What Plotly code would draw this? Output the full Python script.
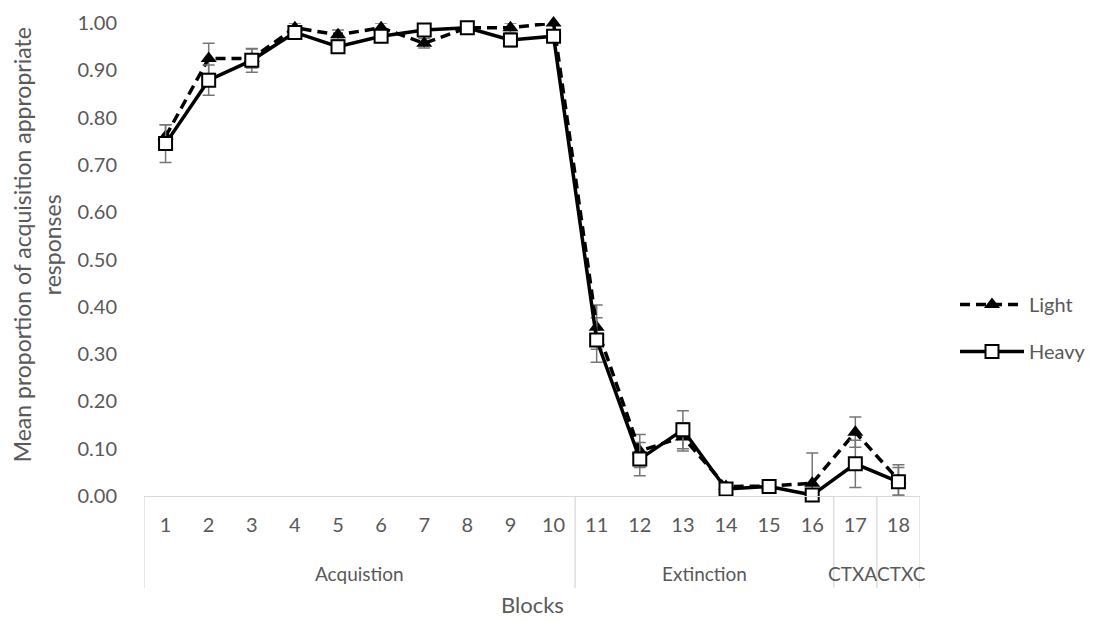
import plotly.graph_objects as go

blocks = [str(i) for i in range(1, 19)]
phases = ["Acquistion"] * 10 + ["Extinction"] * 6 + ["CTXA"] + ["CTXC"]

light = [0.76, 0.925, 0.925, 0.99, 0.975, 0.99, 0.957, 0.99, 0.99, 1.00,
         0.357, 0.095, 0.125, 0.02, 0.021, 0.027, 0.135, 0.034]
light_err = [0.025, 0.032, 0.02, 0.01, 0.01, 0.01, 0.01, 0.005, 0.01, 0.005,
             0.047, 0.035, 0.03, 0.005, 0.005, 0.064, 0.032, 0.032]
heavy = [0.745, 0.879, 0.921, 0.98, 0.95, 0.972, 0.985, 0.99, 0.964, 0.972,
         0.33, 0.078, 0.14, 0.015, 0.02, 0.002, 0.068, 0.03]
heavy_err = [0.04, 0.032, 0.025, 0.01, 0.01, 0.01, 0.01, 0.005, 0.014, 0.01,
             0.047, 0.035, 0.04, 0.005, 0.005, 0.005, 0.05, 0.03]

grey = "#595959"
font = "Lato"
errc = "#767676"

fig = go.Figure()
fig.add_trace(go.Scatter(
    x=blocks, y=light, name="Light", mode="lines+markers", legendgroup="a",
    line=dict(color="black", width=3.5, dash="10px,6px"),
    marker=dict(symbol="triangle-up", size=14, color="black"),
    error_y=dict(type="data", array=light_err, color=errc, thickness=1.5, width=6),
    cliponaxis=False,
))
fig.add_trace(go.Scatter(
    x=blocks, y=heavy, name="Heavy", mode="lines+markers", legendgroup="b",
    line=dict(color="black", width=3.5),
    marker=dict(symbol="square", size=13, color="white", line=dict(width=2, color="black")),
    error_y=dict(type="data", array=heavy_err, color=errc, thickness=1.5, width=6),
    cliponaxis=False,
))

# the page body adds an 8px offset; size the figure so it fits the window
OFF = 8
W, H = 1101 - OFF, 621 - OFF
L, R, T, B = 144 - OFF, 181, 23 - OFF, 125
plot_h = H - T - B
plot_w = W - L - R
base = 496  # page pixel of the zero line


def py(pix):
    return (base - pix) / plot_h


def px(pix):
    return (pix - 144) / plot_w


# group separators and labels derived from the phase list
groups = []
start = 0
for i in range(1, len(phases) + 1):
    if i == len(phases) or phases[i] != phases[start]:
        groups.append((phases[start], start, i - 1))
        start = i

shapes = []
bounds = [-0.5] + [g[2] + 0.5 for g in groups]
for b in bounds:
    shapes.append(dict(type="line", xref="x", yref="paper", x0=b, x1=b,
                       y0=0, y1=py(588), line=dict(color="#d9d9d9", width=1.3)))

annotations = []
for name, s, e in groups:
    shift = 0
    if e - s == 0:
        shift = -3 if s < len(phases) - 1 else 3
    annotations.append(dict(x=(s + e) / 2, y=py(573), xref="x", yref="paper",
                            text=name, showarrow=False, yanchor="middle", xshift=shift,
                            font=dict(size=19, color=grey, family=font)))
annotations.append(dict(x=0.5, y=py(604), xref="paper", yref="paper",
                        text="Blocks", showarrow=False, yanchor="middle",
                        font=dict(size=22, color=grey, family=font)))
annotations.append(dict(x=px(37), y=0.53, xref="paper", yref="paper",
                        text="Mean proportion of acquisition appropriate<br>responses",
                        textangle=-90, showarrow=False, xanchor="center", yanchor="middle",
                        font=dict(size=23, color=grey, family=font)))

fig.update_layout(
    width=W, height=H,
    paper_bgcolor="white", plot_bgcolor="white",
    margin=dict(l=L, r=R, t=T, b=B, autoexpand=False),
    font=dict(family=font, size=20, color=grey),
    showlegend=True,
    legend=dict(x=px(955), y=py(328),
                xanchor="left", yanchor="middle", itemwidth=64,
                font=dict(size=20, color=grey, family=font), tracegroupgap=18,
                bgcolor="rgba(0,0,0,0)"),
    shapes=shapes,
    annotations=annotations,
    xaxis=dict(
        type="category", range=[-0.5, len(blocks) - 0.5],
        showline=True, linecolor="#d9d9d9", linewidth=1.3,
        showgrid=False, ticks="", automargin=False, ticklabelstandoff=11,
        tickfont=dict(size=20, color=grey, family=font),
    ),
    yaxis=dict(
        range=[0, 1.0], dtick=0.1, tickformat=".2f",
        showgrid=False, zeroline=False, showline=False, ticks="",
        automargin=False, ticklabelstandoff=26,
        tickfont=dict(size=20, color=grey, family=font),
    ),
)

fig.write_html("out.html")
